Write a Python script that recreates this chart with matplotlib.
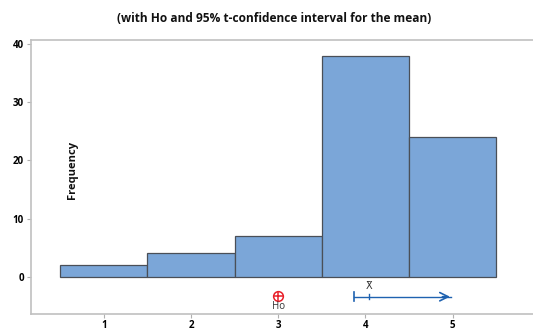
import matplotlib
matplotlib.use("Agg")
import matplotlib.pyplot as plt

# Histogram data
bin_centers = [1, 2, 3, 4, 5]
frequencies = [2, 4, 7, 38, 24]
xticks = [1, 2, 3, 4, 5]
yticks = [0, 10, 20, 30, 40]

# Hypothesis test summary
h0 = 3.0
mean_value = 4.04
ci_lower = 3.87
ci_arrow_end = 5.0
title = "(with Ho and 95% t-confidence interval for the mean)"

plt.rcParams['font.family'] = ['Open Sans', 'DejaVu Sans']

fig = plt.figure(figsize=(5.33, 3.30), dpi=100)
ax = fig.add_axes([0.0582, 0.0485, 0.9418, 0.8303])

ax.bar(bin_centers, frequencies, width=1.0, color="#7BA6D8",
       edgecolor="#4a4f57", linewidth=0.9, zorder=2)

ax.set_xlim(0.167, 5.92)
ax.set_ylim(-6.4, 40.67)
ax.set_xticks(xticks)
ax.set_yticks(yticks)
ax.set_xticklabels([str(v) for v in xticks], fontsize=7, fontweight="bold")
ax.set_yticklabels([str(v) for v in yticks], fontsize=7, fontweight="bold")
ax.tick_params(axis="both", length=3, width=0.8, color="#b0b0b0", pad=2)
ax.tick_params(axis="x", pad=1)

for side in ("left", "bottom", "top"):
    ax.spines[side].set_color("#c0c0c0")
    ax.spines[side].set_linewidth(1.2)
ax.spines["right"].set_visible(False)

# Null hypothesis marker
ho_y = -3.26
ax.plot([h0], [ho_y], marker="o", markersize=7, markerfacecolor="none",
        markeredgecolor="#e8202a", markeredgewidth=1.1, zorder=3)
ax.plot([h0], [ho_y], marker="+", markersize=7, color="#e8202a",
        markeredgewidth=1.1, zorder=3)
ax.text(h0, ho_y - 0.95, "Ho", ha="center", va="top", fontsize=7, color="#333333")

# One-sided confidence interval for the mean
ci_y = -3.43
blue = "#1f62b0"
ax.plot([ci_lower, ci_arrow_end - 0.02], [ci_y, ci_y], color=blue, linewidth=1.0, zorder=3)
ax.plot([ci_lower, ci_lower], [ci_y - 0.75, ci_y + 0.75], color=blue, linewidth=1.2, zorder=3)
ax.plot([mean_value, mean_value], [ci_y - 0.4, ci_y + 0.4], color=blue, linewidth=1.0, zorder=3)
ax.annotate("", xy=(ci_arrow_end, ci_y), xytext=(ci_arrow_end - 0.15, ci_y),
            arrowprops=dict(arrowstyle="->,head_length=0.6,head_width=0.3",
                            color=blue, lw=1.2), zorder=3)
ax.text(mean_value, ci_y + 0.9, "X\u0304", ha="center", va="bottom",
        fontsize=7, color="#333333", family=["DejaVu Sans"])

ax.text(0.637, 18.3, "Frequency", rotation=90, ha="center", va="center",
        fontsize=8, fontweight="bold", color="#111111")

fig.text(0.514, 0.945, title, ha="center", va="center",
         fontsize=8.6, fontweight="bold", color="#111111")

fig.savefig("out.png", dpi=100)
